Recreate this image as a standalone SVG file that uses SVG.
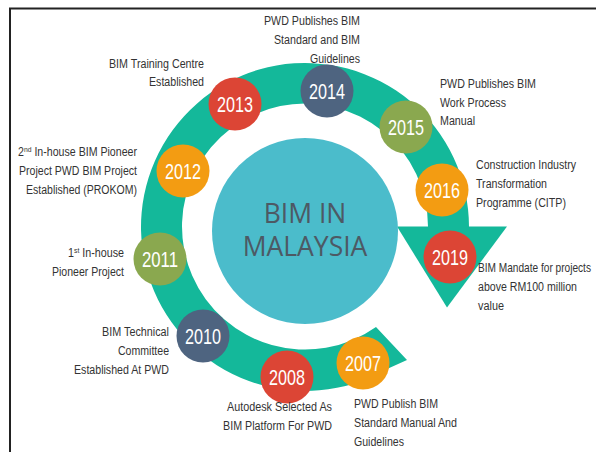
<svg xmlns="http://www.w3.org/2000/svg" width="596" height="452" viewBox="0 0 596 452">
<style>
.lbl{font-family:"Liberation Sans",Arial,sans-serif;font-size:12.5px;fill:#333}
.end{text-anchor:end}
.yr{font-family:"Liberation Sans",Arial,sans-serif;font-size:22px;fill:#fff;text-anchor:middle}
.ctr{font-family:"Open Sans","Liberation Sans",sans-serif;font-size:26.5px;fill:#4d5964;text-anchor:middle}
.red{fill:#dc4535}.slate{fill:#4e6480}.olive{fill:#8aa84f}.orange{fill:#f39c12}
</style>
<rect width="596" height="452" fill="#fff"/>
<path d="M10 452 V8.5 H596" fill="none" stroke="#222" stroke-width="2"/>
<g id="connectors">
<path d="M376 327 L407 360 L387 369 A164 164 0 1 1 469 227 L428 227 A123 123 0 1 0 376 327 Z" fill="#14b89a"/>
<path d="M397 226.5 L507 226.5 L447 307.5 Z" fill="#14b89a"/>
</g>
<g id="center">
<circle cx="305" cy="231" r="93" fill="#4bbccb"/>
<text class="ctr" x="305" y="223">BIM IN</text>
<text class="ctr" x="305" y="256">MALAYSIA</text>
</g>
<g id="y2007">
<circle class="orange" cx="363" cy="363" r="26.5"/>
<text class="yr" x="363" y="371" textLength="36" lengthAdjust="spacingAndGlyphs">2007</text>
<text class="lbl" x="354" y="408" textLength="84" lengthAdjust="spacingAndGlyphs">PWD Publish BIM</text>
<text class="lbl" x="354" y="427" textLength="103" lengthAdjust="spacingAndGlyphs">Standard Manual And</text>
<text class="lbl" x="354" y="446" textLength="50" lengthAdjust="spacingAndGlyphs">Guidelines</text>
</g>
<g id="y2008">
<circle class="red" cx="287" cy="377" r="26.5"/>
<text class="yr" x="287" y="385" textLength="36" lengthAdjust="spacingAndGlyphs">2008</text>
<text class="lbl end" x="332" y="411" textLength="105" lengthAdjust="spacingAndGlyphs">Autodesk Selected As</text>
<text class="lbl end" x="332" y="430" textLength="109" lengthAdjust="spacingAndGlyphs">BIM Platform For PWD</text>
</g>
<g id="y2010">
<circle class="slate" cx="203" cy="336" r="26.5"/>
<text class="yr" x="203" y="344" textLength="36" lengthAdjust="spacingAndGlyphs">2010</text>
<text class="lbl end" x="169" y="336" textLength="67" lengthAdjust="spacingAndGlyphs">BIM Technical</text>
<text class="lbl end" x="169" y="355" textLength="51" lengthAdjust="spacingAndGlyphs">Committee</text>
<text class="lbl end" x="169" y="374" textLength="95" lengthAdjust="spacingAndGlyphs">Established At PWD</text>
</g>
<g id="y2011">
<circle class="olive" cx="160" cy="259" r="26.5"/>
<text class="yr" x="160" y="267" textLength="36" lengthAdjust="spacingAndGlyphs">2011</text>
<text class="lbl end" x="124" y="257" textLength="56" lengthAdjust="spacingAndGlyphs">1<tspan font-size="8" dy="-4">st</tspan><tspan dy="4"> In-house</tspan></text>
<text class="lbl end" x="124" y="276" textLength="72" lengthAdjust="spacingAndGlyphs">Pioneer Project</text>
</g>
<g id="y2012">
<circle class="orange" cx="183" cy="171" r="26.5"/>
<text class="yr" x="183" y="179" textLength="36" lengthAdjust="spacingAndGlyphs">2012</text>
<text class="lbl end" x="137" y="156" textLength="119" lengthAdjust="spacingAndGlyphs">2<tspan font-size="8" dy="-4">nd</tspan><tspan dy="4"> In-house BIM Pioneer</tspan></text>
<text class="lbl end" x="137" y="175" textLength="118" lengthAdjust="spacingAndGlyphs">Project PWD BIM Project</text>
<text class="lbl end" x="137" y="194" textLength="111" lengthAdjust="spacingAndGlyphs">Established (PROKOM)</text>
</g>
<g id="y2013">
<circle class="red" cx="235" cy="104" r="26.5"/>
<text class="yr" x="235" y="112" textLength="36" lengthAdjust="spacingAndGlyphs">2013</text>
<text class="lbl end" x="204" y="68" textLength="95" lengthAdjust="spacingAndGlyphs">BIM Training Centre</text>
<text class="lbl end" x="204" y="86" textLength="55" lengthAdjust="spacingAndGlyphs">Established</text>
</g>
<g id="y2014">
<circle class="slate" cx="327" cy="91" r="26.5"/>
<text class="yr" x="327" y="99" textLength="36" lengthAdjust="spacingAndGlyphs">2014</text>
<text class="lbl end" x="360" y="25" textLength="96" lengthAdjust="spacingAndGlyphs">PWD Publishes BIM</text>
<text class="lbl end" x="360" y="44" textLength="86" lengthAdjust="spacingAndGlyphs">Standard and BIM</text>
<text class="lbl end" x="360" y="63" textLength="50" lengthAdjust="spacingAndGlyphs">Guidelines</text>
</g>
<g id="y2015">
<circle class="olive" cx="406" cy="127" r="26.5"/>
<text class="yr" x="406" y="135" textLength="36" lengthAdjust="spacingAndGlyphs">2015</text>
<text class="lbl" x="440" y="88" textLength="96" lengthAdjust="spacingAndGlyphs">PWD Publishes BIM</text>
<text class="lbl" x="440" y="107" textLength="66" lengthAdjust="spacingAndGlyphs">Work Process</text>
<text class="lbl" x="440" y="125" textLength="35" lengthAdjust="spacingAndGlyphs">Manual</text>
</g>
<g id="y2016">
<circle class="orange" cx="442" cy="190" r="26.5"/>
<text class="yr" x="442" y="198" textLength="36" lengthAdjust="spacingAndGlyphs">2016</text>
<text class="lbl" x="476" y="169" textLength="100" lengthAdjust="spacingAndGlyphs">Construction Industry</text>
<text class="lbl" x="476" y="188" textLength="71" lengthAdjust="spacingAndGlyphs">Transformation</text>
<text class="lbl" x="476" y="207" textLength="90" lengthAdjust="spacingAndGlyphs">Programme (CITP)</text>
</g>
<g id="y2019">
<circle class="red" cx="450" cy="257" r="26.5"/>
<text class="yr" x="450" y="265" textLength="36" lengthAdjust="spacingAndGlyphs">2019</text>
<text class="lbl" transform="translate(478 272) scale(0.81 1)">BIM Mandate for projects</text>
<text class="lbl" x="478" y="291" textLength="99" lengthAdjust="spacingAndGlyphs">above RM100 million</text>
<text class="lbl" x="478" y="310" textLength="26" lengthAdjust="spacingAndGlyphs">value</text>
</g>
</svg>
